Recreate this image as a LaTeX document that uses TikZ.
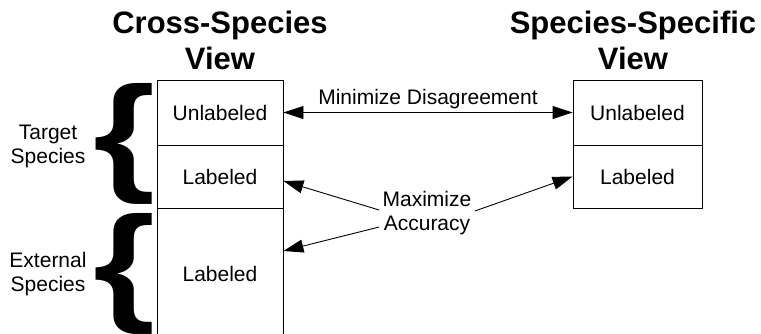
\documentclass[tikz,border=0pt]{standalone}
\usepackage{fontspec}
\setmainfont{Liberation Sans}
\usepackage{graphicx}
\usetikzlibrary{arrows.meta}

\begin{document}
\begin{tikzpicture}[x=1pt,y=-1pt,font=\fontsize{21}{24}\selectfont,
  cell/.style={draw,line width=.9pt,inner sep=0pt,minimum width=126pt},
  acc/.style={-{Triangle[length=20pt,width=13pt]},line width=.9pt},
  ttl/.style={align=center,font=\fontsize{31}{36}\selectfont\bfseries}]
\useasboundingbox (0,0) rectangle (761,334);
\clip (0,0) rectangle (761,334);

\def\bigbrace{\resizebox{62pt}{94pt}{\bfseries\{}}

% titles
\node[ttl] (ttlCross) at (220,40) {Cross-Species\\View};
\node[ttl] (ttlSpec) at (633,40) {Species-Specific\\View};

% cross-species column
\node[cell,minimum height=65pt] (ulCross) at (220,112.5) {Unlabeled};
\node[cell,minimum height=63pt] (lbCross) at (220,176.5) {Labeled};
\node[cell,minimum height=132pt] (lbExt) at (220,274) {Labeled};

% species-specific column
\node[cell,minimum width=129pt,minimum height=65pt] (ulSpec) at (637.5,112.5) {Unlabeled};
\node[cell,minimum width=129pt,minimum height=63pt] (lbSpec) at (637.5,176.5) {Labeled};

% braces
\node (brTgt) at (125,144) {\bigbrace};
\node (brExt) at (125,274) {\bigbrace};
\node[align=center] (txtTgt) at (48,146) {Target\\Species};
\node[align=center] (txtExt) at (48,274) {External\\Species};

% arrows
\draw[acc,{Triangle[length=20pt,width=13pt]}-{Triangle[length=20pt,width=13pt]}]
  (ulCross) -- (ulSpec) node[midway,above] (md) {Minimize Disagreement};
\node[align=center] (ma) at (427,213) {Maximize\\Accuracy};
\draw[acc] ([yshift=3pt]ma.west) -- ([yshift=-4.5pt]lbCross.east);
\draw[acc] ([yshift=-14pt]ma.west) -- ([yshift=23pt]lbExt.east);
\draw[acc] ([yshift=2pt]ma.east) -- (lbSpec.west);

\end{tikzpicture}
\end{document}
